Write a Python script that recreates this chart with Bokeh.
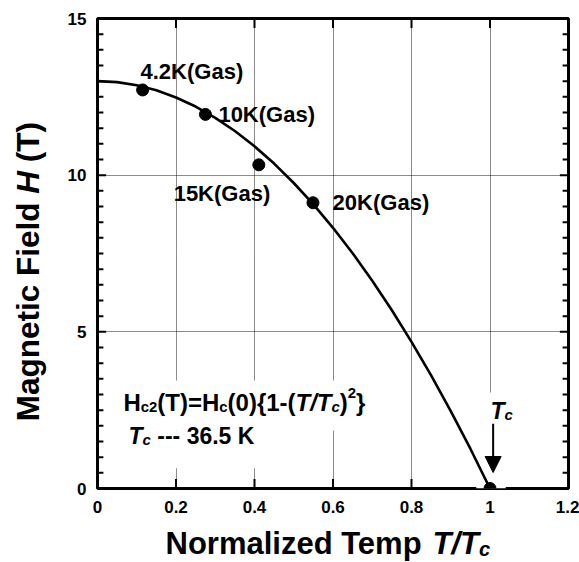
import math
from bokeh.plotting import figure
from bokeh.layouts import row, column
from bokeh.models import (Range1d, FixedTicker, Label, Arrow, NormalHead,
                          NumeralTickFormatter)
from bokeh.embed import file_html
from bokeh.resources import INLINE

# ---------------- data ----------------
t_fit = [0.0, 0.05, 0.10, 0.15, 0.20, 0.25, 0.30, 0.35, 0.40, 0.45, 0.50,
         0.55, 0.60, 0.65, 0.70, 0.75, 0.80, 0.85, 0.90, 0.95, 1.0]
h_fit = [13.00, 12.97, 12.87, 12.71, 12.48, 12.19, 11.83, 11.41, 10.92, 10.37, 9.75,
         9.07, 8.32, 7.51, 6.63, 5.69, 4.68, 3.61, 2.47, 1.27, 0.00]
t_meas = [0.115, 0.275, 0.411, 0.549, 1.0]
h_meas = [12.72, 11.94, 10.33, 9.12, 0.0]
meas_names = ["4.2K(Gas)", "10K(Gas)", "15K(Gas)", "20K(Gas)"]
x_ticks = [0.0, 0.2, 0.4, 0.6, 0.8, 1.0, 1.2]
y_ticks = [0, 5, 10, 15]
XMIN, XMAX, YMIN, YMAX = 0.0, 1.2, 0.0, 15.0

FONT = "Liberation Sans"
K_BASE = 0.33   # vertical correction of the text anchor (fraction of font size)

# Arial / Liberation Sans Bold advance widths (1/1000 em)
W = {' ': 278, '(': 333, ')': 333, '-': 333, '.': 278, '/': 278, '=': 584, '{': 389, '}': 389,
     'H': 722, 'T': 611, 'K': 722, 'G': 778, 'M': 833, 'F': 611, 'N': 722,
     'a': 556, 'c': 556, 'd': 611, 'e': 556, 'g': 611, 'i': 278, 'l': 278, 'm': 889,
     'n': 611, 'o': 611, 'p': 611, 'r': 389, 's': 556, 't': 333, 'z': 500}


def tw(s, size):
    return sum(W.get(ch, 556) for ch in s) * size / 1000.0


def rich(fig, x, y, pieces, size, angle=0.0):
    off = 0.0
    for text, style, scale, shift in pieces:
        fs = size * scale
        lead = len(text) - len(text.lstrip(" "))
        off += tw(" " * lead, fs)
        body = text.strip(" ")
        kw = dict(x=x, y=y, text=body, text_font=FONT, text_font_style=style,
                  text_font_size=f"{fs:.1f}px", text_color="black",
                  text_align="left", text_baseline="alphabetic", angle=angle)
        if angle == 0:
            kw.update(x_offset=off, y_offset=shift + K_BASE * size)
        else:
            kw.update(x_offset=-shift, y_offset=off)
        fig.add_layout(Label(**kw))
        off += tw(text.lstrip(" "), fs)


def text_panel(w, h):
    f = figure(width=w, height=h, output_backend="svg", toolbar_location=None,
               x_range=Range1d(0, w), y_range=Range1d(h, 0),
               x_axis_type=None, y_axis_type=None,
               min_border=0, min_border_left=0, min_border_right=0,
               min_border_top=0, min_border_bottom=0)
    f.outline_line_color = None
    f.xgrid.visible = False
    f.ygrid.visible = False
    f.background_fill_color = "white"
    f.border_fill_color = "white"
    return f


YW, TOPH = 48, 525

# ---------------- main plot ----------------
p = figure(width=579 - YW, height=TOPH, output_backend="svg", toolbar_location=None,
           x_range=Range1d(XMIN, XMAX), y_range=Range1d(YMIN, YMAX),
           min_border_left=49, min_border_right=11, min_border_top=18, min_border_bottom=37)
p.background_fill_color = "white"
p.border_fill_color = "white"
p.outline_line_color = "black"
p.outline_line_width = 3

p.xgrid.ticker = FixedTicker(ticks=[0.2, 0.4, 0.6, 0.8, 1.0])
p.ygrid.ticker = FixedTicker(ticks=[5, 10])
for g in (p.xgrid[0], p.ygrid[0]):
    g.grid_line_color = "black"
    g.grid_line_alpha = 0.9
    g.grid_line_dash = "1 1"
    g.grid_line_width = 1

minor_y = [0.5 * i for i in range(31) if (0.5 * i) % 5 != 0]


def style_axis(ax):
    ax.axis_line_color = None
    ax.major_tick_out = 0
    ax.minor_tick_out = 0
    ax.major_tick_in = 0
    ax.minor_tick_in = 0
    ax.major_label_text_font = FONT
    ax.major_label_text_font_style = "bold"
    ax.major_label_text_color = "black"
    ax.major_label_text_font_size = "17px"


xa = p.xaxis[0]
xa.ticker = FixedTicker(ticks=x_ticks, minor_ticks=[])
xa.formatter = NumeralTickFormatter(format="0.[0]")
style_axis(xa)
xa.major_label_standoff = 12

ya = p.yaxis[0]
ya.ticker = FixedTicker(ticks=y_ticks, minor_ticks=[])
style_axis(ya)
ya.major_label_standoff = 11

# inward tick marks on all four sides, drawn as short segments inside the frame
DX_MIN, DX_MAJ = 0.015, 0.022      # tick lengths along x (data units)
DY_MAJ = 0.30                      # tick length along y (data units)
tk = dict(line_color="black", line_width=2)
p.segment([XMIN] * len(minor_y), minor_y, [XMIN + DX_MIN] * len(minor_y), minor_y, **tk)
p.segment([XMAX] * len(minor_y), minor_y, [XMAX - DX_MIN] * len(minor_y), minor_y, **tk)
p.segment([XMIN] * len(y_ticks), y_ticks, [XMIN + DX_MAJ] * len(y_ticks), y_ticks, **tk)
p.segment([XMAX] * len(y_ticks), y_ticks, [XMAX - DX_MAJ] * len(y_ticks), y_ticks, **tk)
p.segment(x_ticks, [YMIN] * len(x_ticks), x_ticks, [YMIN + DY_MAJ] * len(x_ticks), **tk)
p.segment(x_ticks, [YMAX] * len(x_ticks), x_ticks, [YMAX - DY_MAJ] * len(x_ticks), **tk)

# white boxes behind the text blocks (they hide the grid lines there)
p.quad(left=[0.046, 0.046, 0.965], right=[0.708, 0.43, 1.04],
       bottom=[1.85, 0.65, 0.0], top=[3.45, 1.85, 3.06],
       fill_color="white", line_color=None)

p.line(t_fit, h_fit, line_color="black", line_width=2.6)
p.scatter(t_meas, h_meas, size=12, marker="circle", fill_color="black", line_color="black")

name_pos = [(0.1096, 13.07), (0.308, 11.71), (0.194, 9.19), (0.599, 8.89)]
for name, (lx, ly) in zip(meas_names, name_pos):
    rich(p, lx, ly, [(name, "bold", 1, 0)], 22)

rich(p, 0.066, 2.49, [("H", "bold", 1, 0), ("c2", "bold", 0.62, -4),
                      ("(T)=H", "bold", 1, 0), ("c", "bold", 0.62, -4),
                      ("(0){1-(", "bold", 1, 0), ("T/T", "bold italic", 1, 0),
                      ("c", "bold italic", 0.62, -4), (")", "bold", 1, 0),
                      ("2", "bold", 0.62, 10), ("}", "bold", 1, 0)], 24)
rich(p, 0.079, 1.436, [("T", "bold italic", 1, 0), ("c", "bold italic", 0.65, -4),
                       (" --- 36.5 K", "bold", 1, 0)], 23)
rich(p, 1.001, 2.234, [("T", "bold italic", 1, 0), ("c", "bold italic", 0.65, -4)], 23)
p.add_layout(Arrow(end=NormalHead(size=16, fill_color="black", line_color="black"),
                   x_start=1.008, y_start=2.07, x_end=1.008, y_end=0.51,
                   line_color="black", line_width=2))

# ---------------- axis titles (own panels, pixel coordinates) ----------------
yfig = text_panel(YW, TOPH)
rich(yfig, 27, 450, [("Magnetic Field ", "bold", 1, 0), ("H", "bold italic", 1, 0),
                     (" (T)", "bold", 1, 0)], 31.5, angle=math.pi / 2)

xfig = text_panel(579, 562 - TOPH)
rich(xfig, 165, 28, [("Normalized Temp ", "bold", 1, 0), ("T/T", "bold italic", 1, 0),
                     ("c", "bold italic", 0.65, -6)], 31)

layout = column(row(yfig, p, spacing=0), xfig, spacing=0)
open("out.html", "w").write(file_html(layout, INLINE))
